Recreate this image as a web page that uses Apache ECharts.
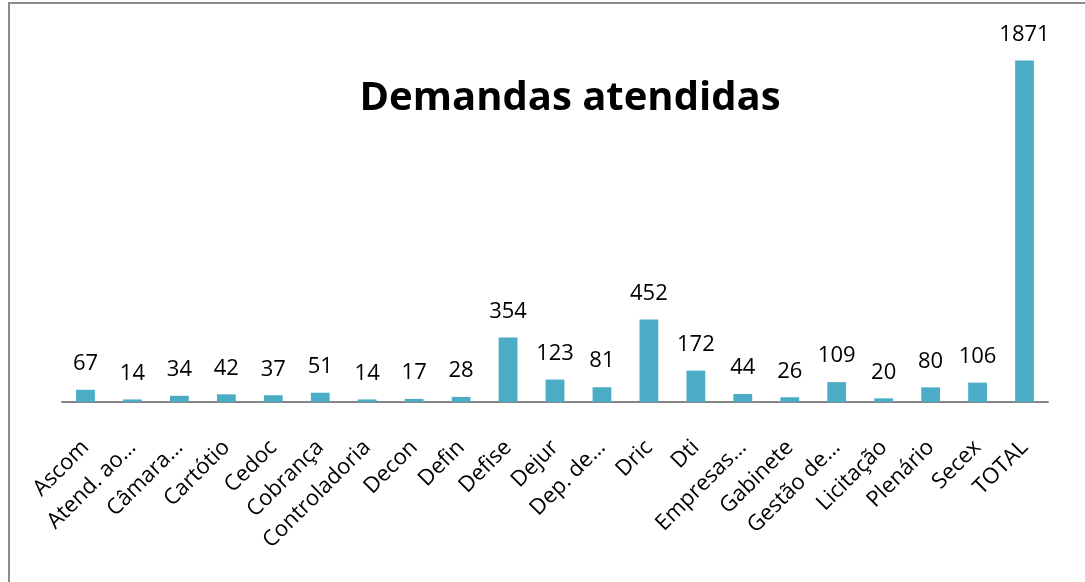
<!DOCTYPE html>
<html>
<head>
<meta charset="utf-8">
<script src="https://cdn.jsdelivr.net/npm/echarts@6/dist/echarts.min.js"></script>
<style>
  html, body { margin: 0; padding: 0; background: #fff; }
  #frame { position: absolute; left: 8px; top: 2px; width: 1100px; height: 600px;
           border-left: 2px solid #8c8c8c; border-top: 2px solid #8c8c8c; }
  #chart { position: absolute; left: 0; top: 0; width: 1085px; height: 582px; }
</style>
</head>
<body>
<div id="frame"></div>
<div id="chart"></div>
<script>
// setores e quantidade de demandas atendidas
const categories = ['Ascom', 'Atend. ao…', 'Câmara…', 'Cartótio', 'Cedoc', 'Cobrança',
  'Controladoria', 'Decon', 'Defin', 'Defise', 'Dejur', 'Dep. de…', 'Dric', 'Dti',
  'Empresas…', 'Gabinete', 'Gestão de…', 'Licitação', 'Plenário', 'Secex', 'TOTAL'];
const demandas = [67, 14, 34, 42, 37, 51, 14, 17, 28, 354, 123, 81, 452, 172, 44, 26, 109, 20, 80, 106, 1871];
const yMax = 2000;

const font = '"Open Sans", "Liberation Sans", sans-serif';
let myChart = echarts.init(document.getElementById('chart'), null, { renderer: 'canvas' });

myChart.setOption({
    animation: false,
    title: {
        text: 'Demandas atendidas',
        left: 565,
        top: 74,
        textAlign: 'center',
        textStyle: { fontFamily: font, fontWeight: 'bold', fontSize: 40, color: '#000' }
    },
    grid: { left: 62, right: 37, top: 37, bottom: 180 },
    xAxis: {
        type: 'category',
        data: categories,
        axisLine: { lineStyle: { color: '#868686', width: 2 } },
        axisTick: { show: false },
        axisLabel: {
            interval: 0,
            rotate: 45,
            margin: 42,
            fontFamily: font,
            fontSize: 22,
            color: '#000'
        }
    },
    yAxis: {
        type: 'value',
        min: 0,
        max: yMax,
        show: false,
        splitLine: { show: false }
    },
    series: [{
        type: 'bar',
        data: demandas,
        barWidth: '40%',
        itemStyle: { color: '#4BACC6' },
        label: {
            show: true,
            position: 'top',
            distance: 15,
            fontFamily: font,
            fontSize: 22,
            color: '#000'
        }
    }]
});
</script>
</body>
</html>
